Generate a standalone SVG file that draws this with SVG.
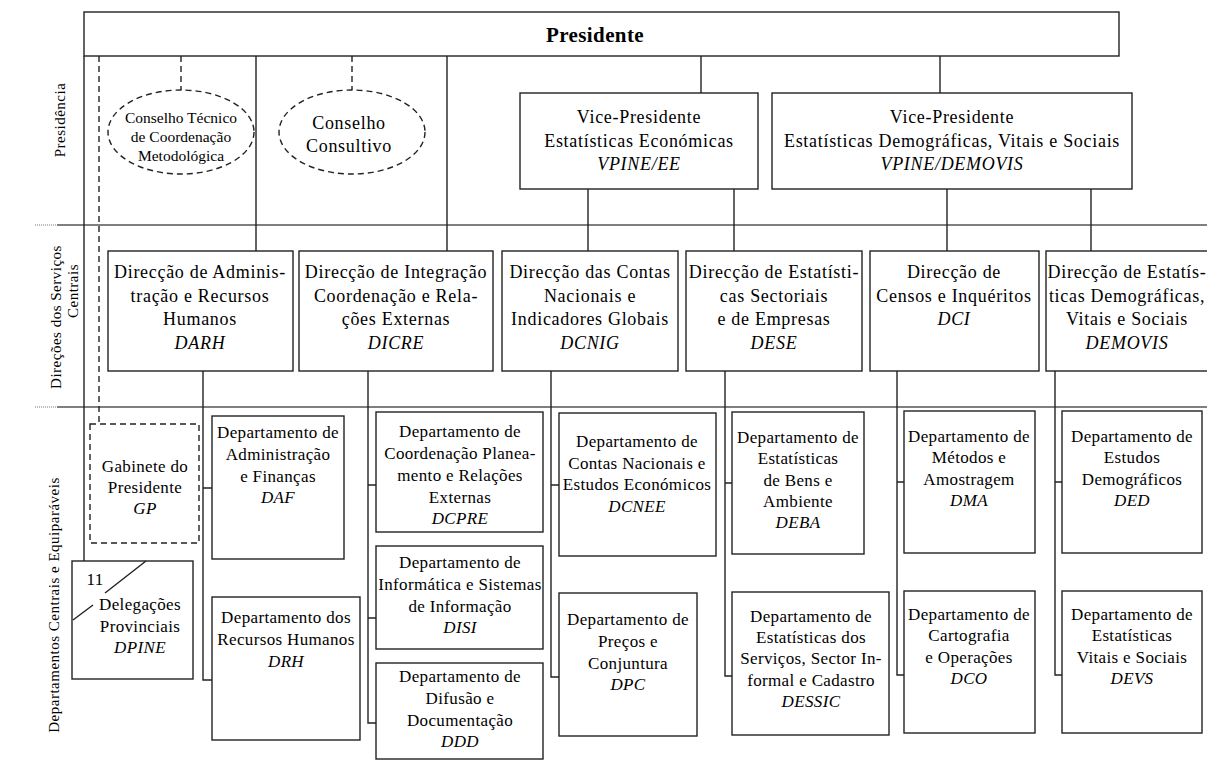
<svg xmlns="http://www.w3.org/2000/svg" width="1207" height="760" viewBox="0 0 1207 760">
<style>
text{font-family:"Liberation Serif","Times New Roman",serif;fill:#000;text-anchor:middle}
.box{fill:#fff;stroke:#222;stroke-width:1.4}
.dbox{fill:#fff;stroke:#222;stroke-width:1.4;stroke-dasharray:6 4}
.ln{fill:none;stroke:#222;stroke-width:1.4}
.dl{fill:none;stroke:#222;stroke-width:1.4;stroke-dasharray:6 4}
.sep{fill:none;stroke:#555;stroke-width:1.4}
.dot{fill:none;stroke:#777;stroke-width:1;stroke-dasharray:1 1}
.t2{font-size:18px;letter-spacing:0.7px}
.t3{font-size:17px;letter-spacing:0.35px}
.te{font-size:15.5px}
.lab{font-size:15px;letter-spacing:0.5px}
.i{font-style:italic}
</style>
<rect width="1207" height="760" fill="#fff"/>
<g id="rows">
<line class="sep" x1="57" y1="225" x2="1207" y2="225"/>
<line class="sep" x1="57" y1="407" x2="1207" y2="407"/>
<line class="dot" x1="35" y1="225" x2="57" y2="225"/>
<line class="dot" x1="35" y1="407" x2="57" y2="407"/>
<text class="lab" transform="translate(65,120) rotate(-90)">Presidência</text>
<text class="lab" transform="translate(61,317) rotate(-90)">Direções dos Serviços</text>
<text class="lab" transform="translate(78,291) rotate(-90)">Centrais</text>
<text class="lab" transform="translate(59,605) rotate(-90)">Departamentos Centrais e Equiparáveis</text>
</g>
<g id="connectors">
<line class="ln" x1="84" y1="56" x2="84" y2="561"/>
<line class="dl" x1="99" y1="56" x2="99" y2="424"/>
<line class="dl" x1="181" y1="56" x2="181" y2="91"/>
<line class="dl" x1="352" y1="56" x2="352" y2="91"/>
<line class="ln" x1="256" y1="56" x2="256" y2="251"/>
<line class="ln" x1="447" y1="56" x2="447" y2="251"/>
<line class="ln" x1="701" y1="56" x2="701" y2="93"/>
<line class="ln" x1="940" y1="56" x2="940" y2="93"/>
<line class="ln" x1="588" y1="189" x2="588" y2="251"/>
<line class="ln" x1="734" y1="189" x2="734" y2="251"/>
<line class="ln" x1="947" y1="189" x2="947" y2="251"/>
<line class="ln" x1="1091" y1="189" x2="1091" y2="251"/>
<path class="ln" d="M203 371V680H212M203 488H212"/>
<path class="ln" d="M368 371V723H376M368 485H376M368 618H376"/>
<path class="ln" d="M551 371V677H559M551 485H559"/>
<path class="ln" d="M725 371V676H732M725 483H732"/>
<path class="ln" d="M897 371V675H904M897 482H904"/>
<path class="ln" d="M1055 371V675H1062M1055 482H1062"/>
</g>
<g id="presidente">
<rect class="box" x="84" y="12" width="1035" height="44"/>
<text x="595" y="42" font-size="21" font-weight="bold" letter-spacing="0.4">Presidente</text>
</g>
<g id="ctcm">
<ellipse class="dbox" cx="181" cy="132" rx="73" ry="42"/>
<text class="te" x="181" y="123">Conselho Técnico</text>
<text class="te" x="181" y="142">de Coordenação</text>
<text class="te" x="181" y="161">Metodológica</text>
</g>
<g id="cc">
<ellipse class="dbox" cx="352" cy="132" rx="73" ry="42"/>
<text class="t2" x="349" y="129">Conselho</text>
<text class="t2" x="349" y="152">Consultivo</text>
</g>
<g id="vpee">
<rect class="box" x="520" y="93" width="238" height="96"/>
<text class="t2" x="639" y="123">Vice-Presidente</text>
<text class="t2" x="639" y="147">Estatísticas Económicas</text>
<text class="t2 i" x="639" y="170">VPINE/EE</text>
</g>
<g id="vpdemovis">
<rect class="box" x="772" y="93" width="360" height="96"/>
<text class="t2" x="952" y="123">Vice-Presidente</text>
<text class="t2" x="952" y="147" letter-spacing="0.2">Estatísticas Demográficas, Vitais e Sociais</text>
<text class="t2 i" x="952" y="170">VPINE/DEMOVIS</text>
</g>
<g id="darh">
<rect class="box" x="108" y="251" width="185" height="120"/>
<text class="t2" x="200" y="278">Direcção de Adminis-</text>
<text class="t2" x="200" y="302">tração e Recursos</text>
<text class="t2" x="200" y="325">Humanos</text>
<text class="t2 i" x="200" y="349">DARH</text>
</g>
<g id="dicre">
<rect class="box" x="299" y="251" width="194" height="120"/>
<text class="t2" x="396" y="278">Direcção de Integração</text>
<text class="t2" x="396" y="302">Coordenação e Rela-</text>
<text class="t2" x="396" y="325">ções Externas</text>
<text class="t2 i" x="396" y="349">DICRE</text>
</g>
<g id="dcnig">
<rect class="box" x="502" y="251" width="176" height="120"/>
<text class="t2" x="590" y="278">Direcção das Contas</text>
<text class="t2" x="590" y="302">Nacionais e</text>
<text class="t2" x="590" y="325">Indicadores Globais</text>
<text class="t2 i" x="590" y="349">DCNIG</text>
</g>
<g id="dese">
<rect class="box" x="686" y="251" width="176" height="120"/>
<text class="t2" x="774" y="278">Direcção de Estatísti-</text>
<text class="t2" x="774" y="302">cas Sectoriais</text>
<text class="t2" x="774" y="325">e de Empresas</text>
<text class="t2 i" x="774" y="349">DESE</text>
</g>
<g id="dci">
<rect class="box" x="870" y="251" width="169" height="120"/>
<text class="t2" x="954" y="278">Direcção de</text>
<text class="t2" x="954" y="302">Censos e Inquéritos</text>
<text class="t2 i" x="954" y="325">DCI</text>
</g>
<g id="demovis">
<rect class="box" x="1046" y="251" width="175" height="120"/>
<text class="t2" x="1127" y="278">Direcção de Estatís-</text>
<text class="t2" x="1127" y="302">ticas Demográficas,</text>
<text class="t2" x="1127" y="325">Vitais e Sociais</text>
<text class="t2 i" x="1127" y="349">DEMOVIS</text>
</g>
<g id="gp">
<rect class="dbox" x="90" y="424" width="109" height="119"/>
<text class="t3" x="145" y="472">Gabinete do</text>
<text class="t3" x="145" y="493">Presidente</text>
<text class="t3 i" x="145" y="514">GP</text>
</g>
<g id="dpine">
<rect class="box" x="72" y="561" width="121" height="118"/>
<text class="t3" x="95" y="585">11</text>
<path class="ln" d="M73 620L93 605M105 593L146 561"/>
<text class="t3" x="140" y="610">Delegações</text>
<text class="t3" x="140" y="632">Provinciais</text>
<text class="t3 i" x="140" y="653">DPINE</text>
</g>
<g id="daf">
<rect class="box" x="212" y="416" width="132" height="143"/>
<text class="t3" x="278" y="438">Departamento de</text>
<text class="t3" x="278" y="460">Administração</text>
<text class="t3" x="278" y="482">e Finanças</text>
<text class="t3 i" x="278" y="503">DAF</text>
</g>
<g id="drh">
<rect class="box" x="212" y="597" width="148" height="143"/>
<text class="t3" x="286" y="623">Departamento dos</text>
<text class="t3" x="286" y="645">Recursos Humanos</text>
<text class="t3 i" x="286" y="667">DRH</text>
</g>
<g id="dcpre">
<rect class="box" x="376" y="412" width="167" height="120"/>
<text class="t3" x="460" y="437">Departamento de</text>
<text class="t3" x="460" y="459">Coordenação Planea-</text>
<text class="t3" x="460" y="481">mento e Relações</text>
<text class="t3" x="460" y="503">Externas</text>
<text class="t3 i" x="460" y="524">DCPRE</text>
</g>
<g id="disi">
<rect class="box" x="376" y="546" width="167" height="103"/>
<text class="t3" x="460" y="568">Departamento de</text>
<text class="t3" x="460" y="590">Informática e Sistemas</text>
<text class="t3" x="460" y="612">de Informação</text>
<text class="t3 i" x="460" y="633">DISI</text>
</g>
<g id="ddd">
<rect class="box" x="376" y="663" width="167" height="96"/>
<text class="t3" x="460" y="682">Departamento de</text>
<text class="t3" x="460" y="704">Difusão e</text>
<text class="t3" x="460" y="726">Documentação</text>
<text class="t3 i" x="460" y="747">DDD</text>
</g>
<g id="dcnee">
<rect class="box" x="559" y="413" width="157" height="143"/>
<text class="t3" x="637" y="447">Departamento de</text>
<text class="t3" x="637" y="469">Contas Nacionais e</text>
<text class="t3" x="637" y="490">Estudos Económicos</text>
<text class="t3 i" x="637" y="512">DCNEE</text>
</g>
<g id="dpc">
<rect class="box" x="559" y="593" width="138" height="143"/>
<text class="t3" x="628" y="625">Departamento de</text>
<text class="t3" x="628" y="647">Preços e</text>
<text class="t3" x="628" y="669">Conjuntura</text>
<text class="t3 i" x="628" y="690">DPC</text>
</g>
<g id="deba">
<rect class="box" x="732" y="412" width="132" height="142"/>
<text class="t3" x="798" y="443">Departamento de</text>
<text class="t3" x="798" y="464">Estatísticas</text>
<text class="t3" x="798" y="486">de Bens e</text>
<text class="t3" x="798" y="507">Ambiente</text>
<text class="t3 i" x="798" y="528">DEBA</text>
</g>
<g id="dessic">
<rect class="box" x="732" y="592" width="157" height="143"/>
<text class="t3" x="811" y="622">Departamento de</text>
<text class="t3" x="811" y="643">Estatísticas dos</text>
<text class="t3" x="811" y="664">Serviços,  Sector In-</text>
<text class="t3" x="811" y="686">formal e Cadastro</text>
<text class="t3 i" x="811" y="707">DESSIC</text>
</g>
<g id="dma">
<rect class="box" x="904" y="411" width="131" height="142"/>
<text class="t3" x="969" y="442">Departamento de</text>
<text class="t3" x="969" y="463">Métodos e</text>
<text class="t3" x="969" y="485">Amostragem</text>
<text class="t3 i" x="969" y="506">DMA</text>
</g>
<g id="dco">
<rect class="box" x="904" y="591" width="131" height="142"/>
<text class="t3" x="969" y="620">Departamento de</text>
<text class="t3" x="969" y="641">Cartografia</text>
<text class="t3" x="969" y="663">e Operações</text>
<text class="t3 i" x="969" y="684">DCO</text>
</g>
<g id="ded">
<rect class="box" x="1062" y="411" width="140" height="142"/>
<text class="t3" x="1132" y="442">Departamento de</text>
<text class="t3" x="1132" y="463">Estudos</text>
<text class="t3" x="1132" y="485">Demográficos</text>
<text class="t3 i" x="1132" y="506">DED</text>
</g>
<g id="devs">
<rect class="box" x="1062" y="591" width="140" height="142"/>
<text class="t3" x="1132" y="620">Departamento de</text>
<text class="t3" x="1132" y="641">Estatísticas</text>
<text class="t3" x="1132" y="663">Vitais e Sociais</text>
<text class="t3 i" x="1132" y="684">DEVS</text>
</g>
</svg>
